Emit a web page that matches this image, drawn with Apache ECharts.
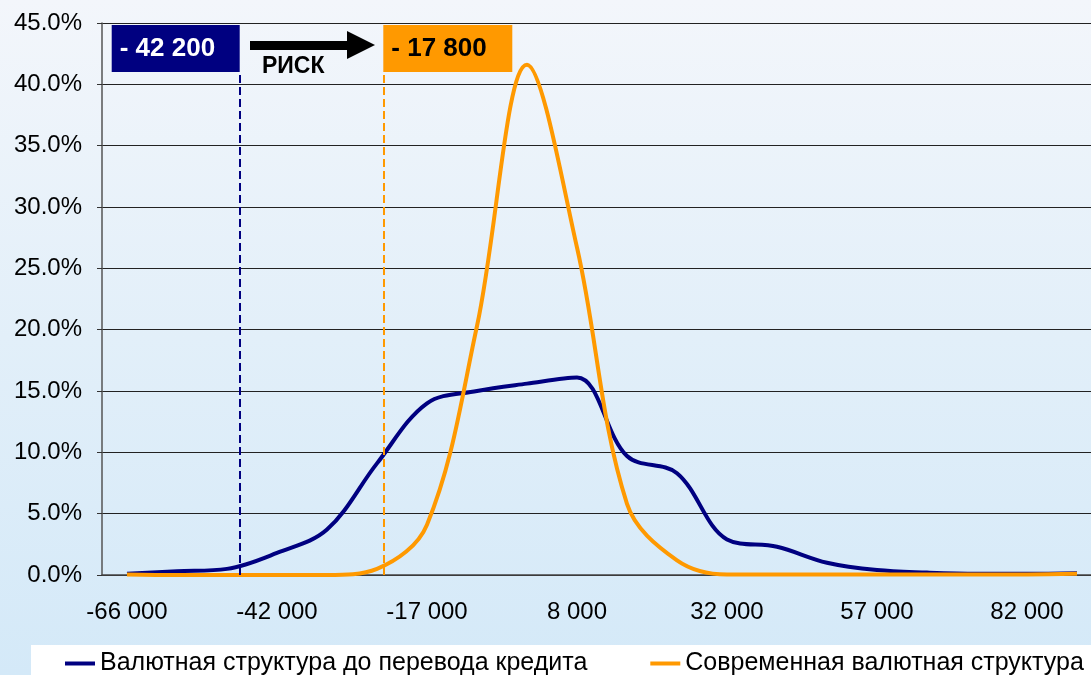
<!DOCTYPE html>
<html><head><meta charset="utf-8">
<script src="https://cdn.jsdelivr.net/npm/echarts@6/dist/echarts.min.js"></script>
<style>html,body{margin:0;padding:0;}#c{width:1091px;height:675px;}</style>
</head><body><div id="c"></div>
<script>
// Categories (bins); only every third one is labelled on the axis
const categories = ['-66 000','-58 000','-50 000','-42 000','-33 000','-25 000','-17 000','-9 000','0','8 000',
                    '16 000','24 000','32 000','41 000','49 000','57 000','65 000','74 000','82 000','90 000'];
// Series values, %
const beforeTransfer = [0.1,0.3,0.5,1.8,3.7,9.1,14.0,15.0,15.6,16.1,9.7,8.3,2.9,2.3,1.0,0.4,0.2,0.1,0.1,0.15];
const currentStruct  = [0.05,0.0,0.0,0.0,0.0,0.5,4.1,20.3,41.6,26.7,5.8,1.2,0.05,0.05,0.05,0.05,0.05,0.05,0.05,0.1];
const seriesNames = ['Валютная структура до перевода кредита','Современная валютная структура'];
// Risk annotations: position along the category axis (in bin units) and the box top level (%)
const riskLabels = ['- 42 200', '- 17 800'];
const riskPos = [2.254, 5.126];
const riskTop = 41.0;
const arrowFrom = 2.46, arrowTo = 4.68, arrowLevel = 43.2;
const riskText = 'РИСК';

const NAVY = '#000080', ORANGE = '#FF9900';
const FONT = 'Liberation Sans, Arial, sans-serif';

const chart = echarts.init(document.getElementById('c'));
chart.setOption({
  animation: false,
  backgroundColor: new echarts.graphic.LinearGradient(0, 0, 0, 1, [
    {offset: 0, color: '#f3f6fb'}, {offset: 0.5, color: '#e2eff9'}, {offset: 1, color: '#d4e9f8'}
  ]),
  textStyle: {fontFamily: FONT},
  grid: {left: 102, top: 23, width: 1000, height: 552, outerBoundsMode: 'none', containLabel: false},
  legend: {
    left: 31, top: 645, width: 1200, padding: [6, 60, 10, 34],
    backgroundColor: '#ffffff',
    itemWidth: 30, itemHeight: 4, itemGap: 63, icon: 'rect',
    textStyle: {fontSize: 25, color: '#000', fontFamily: FONT},
    data: seriesNames
  },
  xAxis: [{
    type: 'category', data: categories, boundaryGap: true,
    axisLine: {lineStyle: {color: '#444', width: 1.5}},
    axisTick: {interval: 2, length: 7, lineStyle: {color: '#222'}},
    axisLabel: {interval: 2, fontSize: 24, color: '#000', margin: 25, fontFamily: FONT}
  }, {
    type: 'value', min: -0.5, max: 19.5, show: false
  }],
  yAxis: {
    type: 'value', min: 0, max: 45, interval: 5,
    axisLine: {show: true, onZero: false, lineStyle: {color: '#555', width: 1.5}},
    axisTick: {show: true, length: 5, lineStyle: {color: '#333'}},
    axisLabel: {fontSize: 24, color: '#000', margin: 20, fontFamily: FONT,
      formatter: v => v.toFixed(1) + '%'},
    splitLine: {lineStyle: {color: '#222', width: 1}}
  },
  series: [{
    name: seriesNames[0], type: 'line', data: beforeTransfer, smooth: 0.35,
    showSymbol: false, lineStyle: {color: NAVY, width: 4}, itemStyle: {color: NAVY}, z: 3
  }, {
    name: seriesNames[1], type: 'line', data: currentStruct, smooth: 0.35,
    showSymbol: false, lineStyle: {color: ORANGE, width: 4}, itemStyle: {color: ORANGE}, z: 4
  }, {
    name: 'annotations', type: 'line', xAxisIndex: 1, data: [], silent: true,
    markLine: {
      silent: true, animation: false,
      data: [
        [{coord: [riskPos[0], 0], symbol: 'none', lineStyle: {color: NAVY, width: 2, type: [8, 4]}, label: {show: false}},
         {coord: [riskPos[0], riskTop], symbol: 'none'}],
        [{coord: [riskPos[1], 0], symbol: 'none', lineStyle: {color: ORANGE, width: 2, type: [8, 4]}, label: {show: false}},
         {coord: [riskPos[1], riskTop], symbol: 'none'}],
        [{coord: [arrowFrom, arrowLevel], symbol: 'none', lineStyle: {color: '#000', width: 9, type: 'solid'},
          label: {show: true, position: 'insideStartBottom', formatter: riskText, color: '#000',
                  fontWeight: 'bold', fontSize: 23, fontFamily: FONT, distance: [12, 10]}},
         {coord: [arrowTo, arrowLevel], symbol: 'triangle', symbolSize: 28}]
      ]
    },
    markPoint: {
      silent: true, animation: false,
      data: [
        {coord: [riskPos[0], riskTop], symbol: 'rect', symbolSize: [128, 47], symbolOffset: ['-50%', '-50%'],
         itemStyle: {color: NAVY},
         label: {show: true, position: 'insideLeft', distance: 8, formatter: riskLabels[0], color: '#fff',
                 fontWeight: 'bold', fontSize: 26, fontFamily: FONT}},
        {coord: [riskPos[1], riskTop], symbol: 'rect', symbolSize: [129, 47], symbolOffset: ['50%', '-50%'],
         itemStyle: {color: ORANGE},
         label: {show: true, position: 'insideLeft', distance: 8, formatter: riskLabels[1], color: '#000',
                 fontWeight: 'bold', fontSize: 26, fontFamily: FONT}}
      ]
    }
  }]
});
</script></body></html>
